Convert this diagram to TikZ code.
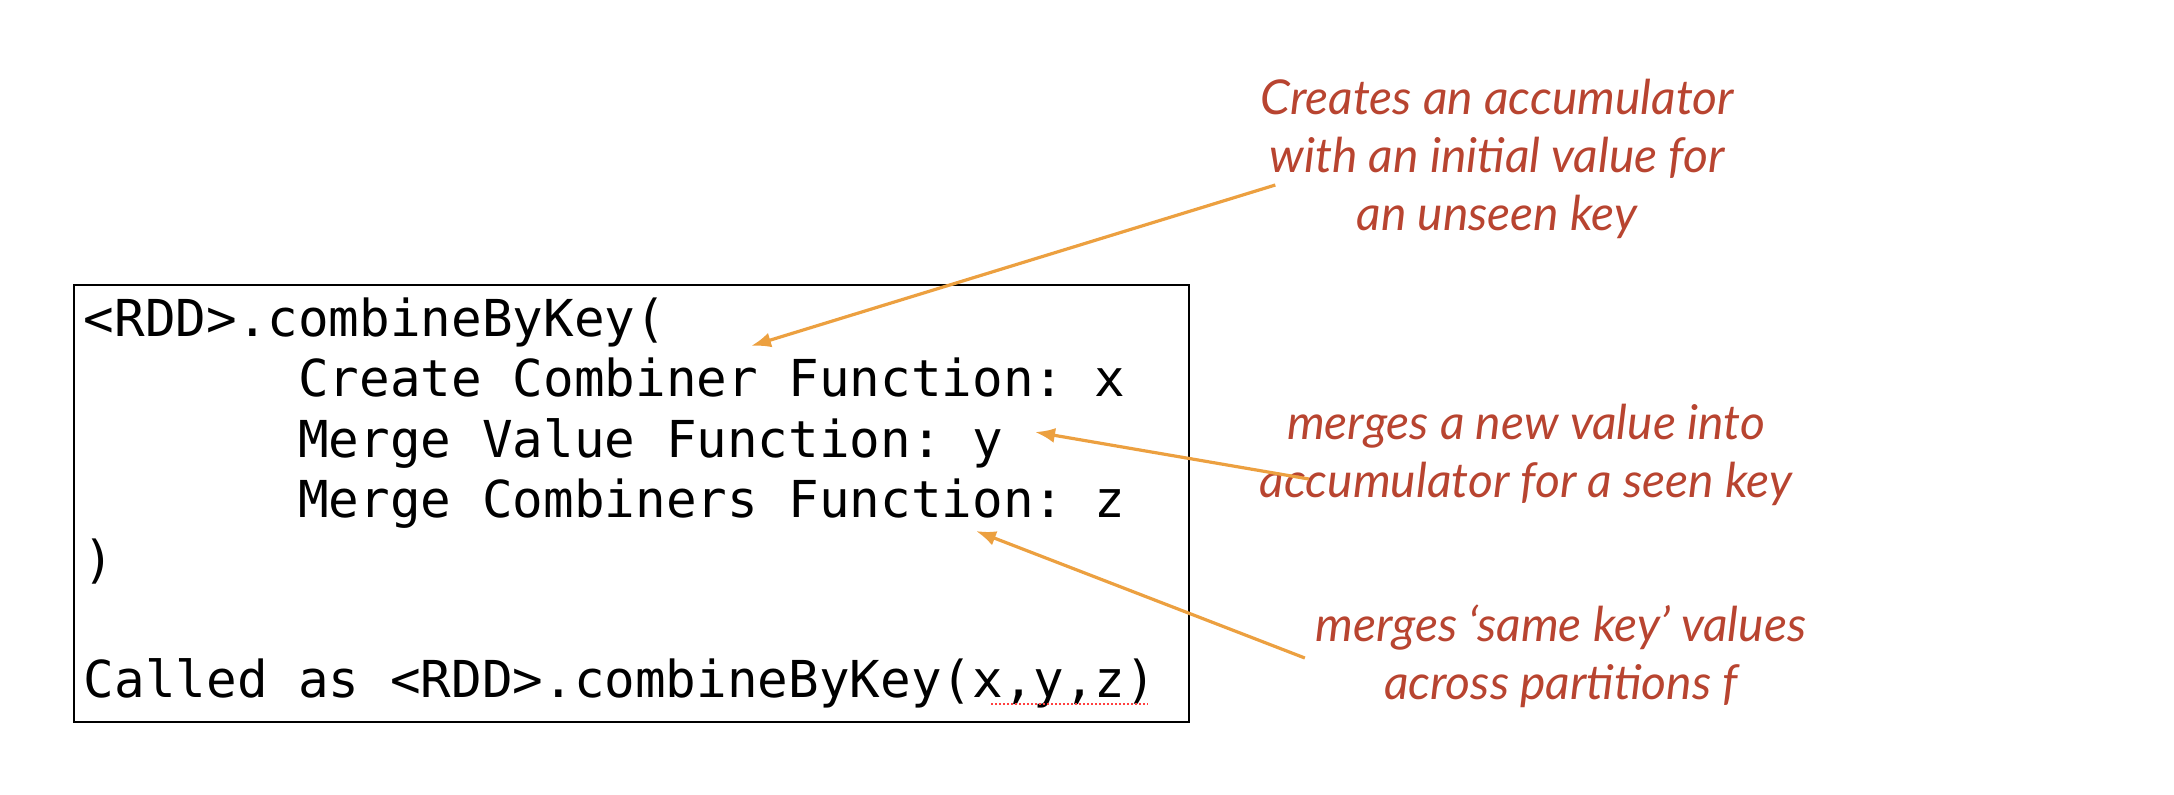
\documentclass[tikz,border=0pt]{standalone}
\usepackage{fontspec}
\usetikzlibrary{arrows.meta}
\setmonofont{DejaVu Sans Mono}
\newfontfamily\handfont{Lato}
\definecolor{notered}{RGB}{184,68,48}
\definecolor{arroworange}{RGB}{236,160,64}
\newcommand{\ws}{\phantom{M}}
\newcommand{\codeindent}{\phantom{MMMMMMM}}

\begin{document}
\begin{tikzpicture}[x=0.5pt,y=-0.5pt,
		note/.style={align=center, text=notered, font=\handfont\itshape\fontsize{24}{29}\selectfont},
		arr/.style={-{Latex[length=10pt,width=7.5pt]}, draw=arroworange, line width=1.6pt}]
			\useasboundingbox (0,0) rectangle (2174,794);

			\node [draw, line width=0.8pt, anchor=north west, minimum width=557.5pt, minimum height=218.5pt, text width=547.5pt, inner xsep=5pt, align=left, font=\ttfamily\fontsize{25.45}{30.1}\selectfont] (code) at (73,284) {<RDD>.combineByKey(\\
				\codeindent Create\ws Combiner\ws Function:\ws x\\
				\codeindent Merge\ws Value\ws Function:\ws y\\
				\codeindent Merge\ws Combiners\ws Function:\ws z\\
				)\\
				\mbox{}\\
				Called\ws as\ws <RDD>.combineByKey(x,y,z)};
			\draw [red!75, densely dotted, line width=1pt] (991,704) -- (1148,704);

			\node [note] (note1) at (1497,159) {Creates an accumulator\\with an initial value for\\an unseen key};
			\node [note] (note2) at (1526,455) {merges a new value into\\accumulator for a seen key};
			\node [note] (note3) at (1561,656) {merges ‘same key’ values\\across partitions f};

			\coordinate (tip1) at (751,346);
			\coordinate (tip2) at (1035,432);
			\coordinate (tip3) at (976,531);

			\draw [arr] ([xshift=11pt,yshift=-13pt]note1.west) -- (tip1);
			\draw [arr] ([xshift=28pt,yshift=-12pt]note2.west) -- (tip2);
			\draw [arr] ([xshift=-2pt,yshift=-1pt]note3.west) -- (tip3);
		\end{tikzpicture}
\end{document}
